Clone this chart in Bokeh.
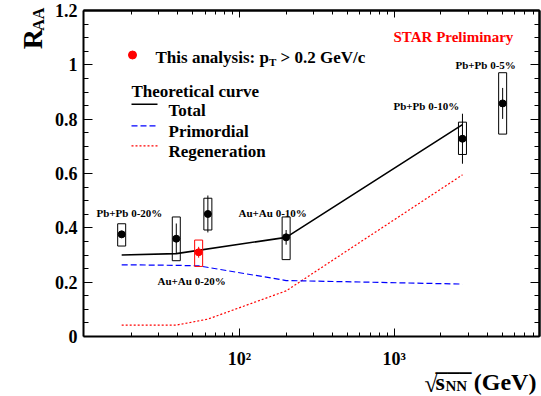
import math
from bokeh.plotting import figure
from bokeh.models import (FixedTicker, NumeralTickFormatter,
                          BasicTickFormatter, LogAxis, LinearAxis, Label,
                          ColumnDataSource)
from bokeh.embed import file_html
from bokeh.resources import INLINE

# ---------------- data ----------------
# measured points (black): sqrt(s_NN) in GeV
energy = [17.3, 39.0, 62.4, 200.0, 2760.0, 5020.0]
raa = [0.376, 0.360, 0.451, 0.365, 0.728, 0.858]
stat_err = [0.012, 0.056, 0.068, 0.027, 0.092, 0.057]
sys_lo = [0.043, 0.081, 0.059, 0.082, 0.058, 0.113]
sys_hi = [0.039, 0.080, 0.058, 0.075, 0.061, 0.113]

# this analysis (red)
this_energy = [54.4]
this_raa = [0.310]
this_stat = [0.020]
this_sys_lo = [0.052]
this_sys_hi = [0.045]

# theoretical curves
total_e = [17.3, 39.0, 200.0, 2760.0]
total_raa = [0.300, 0.305, 0.365, 0.780]
prim_e = [17.3, 39.0, 54.4, 200.0, 2760.0]
prim_raa = [0.264, 0.262, 0.260, 0.206, 0.193]
regen_e = [17.3, 39.0, 62.4, 200.0, 2760.0]
regen_raa = [0.042, 0.042, 0.064, 0.168, 0.595]

point_labels = ["Pb+Pb 0-20%", "Au+Au 0-20%", "Au+Au 0-10%", "Pb+Pb 0-10%", "Pb+Pb 0-5%"]
x_major = [100, 1000]
x_minor = [20, 30, 40, 50, 60, 70, 80, 90, 200, 300, 400, 500, 600, 700, 800, 900,
           2000, 3000, 4000, 5000, 6000, 7000, 8000]
y_major = [0.0, 0.2, 0.4, 0.6, 0.8, 1.0, 1.2]
y_minor = [0.05, 0.1, 0.15, 0.25, 0.3, 0.35, 0.45, 0.5, 0.55, 0.65, 0.7, 0.75,
           0.85, 0.9, 0.95, 1.05, 1.1, 1.15]

# ---------------- layout ----------------
# The Bokeh frame covers the whole canvas; the visible plot box (axes) is
# drawn at fixed locations inside it so that titles outside the box stay visible.
W, H = 541, 396
FONT = "Liberation Serif"
Y_MIN, Y_MAX = 0.0, 1.2
LOGX0 = math.log10(9.8)        # x value at the left side of the box
PX_PER_DEC = 154.7
BOX_L, BOX_R, BOX_T, BOX_B = 83, 539, 10, 336
PX_PER_UNIT = (BOX_B - BOX_T) / (Y_MAX - Y_MIN)


def rx(px):
    return 10 ** (LOGX0 + (px - BOX_L) / PX_PER_DEC)


def ry(py):
    return (BOX_B - py) / PX_PER_UNIT


X_LEFT, X_RIGHT = rx(BOX_L), rx(BOX_R)

p = figure(width=W, height=H, x_axis_type="log", x_range=(rx(0), rx(W)),
           y_range=(ry(H), ry(0)), output_backend="svg", toolbar_location=None,
           min_border_left=0, min_border_right=0, min_border_top=0, min_border_bottom=0)
p.xgrid.visible = False
p.ygrid.visible = False
p.outline_line_color = None
p.background_fill_color = "white"
p.border_fill_color = "white"


def style_axis(ax, major_in, minor_in):
    ax.axis_line_width = 2
    ax.axis_line_color = "black"
    ax.major_tick_in = major_in
    ax.major_tick_out = 0
    ax.minor_tick_in = minor_in
    ax.minor_tick_out = 0
    ax.major_tick_line_color = "black"
    ax.minor_tick_line_color = "black"
    ax.major_label_text_font = FONT
    ax.major_label_text_font_style = "bold"
    ax.major_label_text_color = "black"


xa = p.xaxis[0]
xa.ticker = FixedTicker(ticks=x_major, minor_ticks=x_minor)
xa.formatter = BasicTickFormatter()
xa.major_label_overrides = {100: "10\u00b2", 1000: "10\u00b3"}
style_axis(xa, 8, 4)
xa.major_label_text_font_size = "18px"
xa.major_label_standoff = 12
xa.fixed_location = Y_MIN
xa.bounds = (X_LEFT, X_RIGHT)

ya = p.yaxis[0]
ya.ticker = FixedTicker(ticks=y_major, minor_ticks=y_minor)
ya.formatter = NumeralTickFormatter(format="0.[0]")
style_axis(ya, 9, 5)
ya.major_label_text_font_size = "18px"
ya.major_label_standoff = 6
ya.fixed_location = X_LEFT
ya.bounds = (Y_MIN, Y_MAX)

# mirrored tick marks on top and right (no labels)
for ticks, length in ((x_major, 7), (x_minor, 4)):
    ax = LogAxis(ticker=FixedTicker(ticks=[], minor_ticks=ticks))
    style_axis(ax, 0, length)
    ax.major_label_standoff = 0
    ax.fixed_location = Y_MAX
    ax.bounds = (X_LEFT, X_RIGHT)
    p.add_layout(ax, "above")
for ticks, length in ((y_major, 9), (y_minor, 5)):
    ax = LinearAxis(ticker=FixedTicker(ticks=[], minor_ticks=ticks))
    style_axis(ax, 0, length)
    ax.major_label_standoff = 0
    ax.fixed_location = X_RIGHT
    ax.bounds = (Y_MIN, Y_MAX)
    p.add_layout(ax, "right")

# ---------------- theory curves ----------------
p.line(regen_e, regen_raa, line_color="#ff0000", line_width=1.2, line_dash="2 2")
p.line(prim_e, prim_raa, line_color="#0000ff", line_width=1.2, line_dash="6 3")
p.line(total_e, total_raa, line_color="black", line_width=1.6)


# ---------------- data points ----------------
def add_points(xs, ys, st, slo, shi, color):
    src = ColumnDataSource(dict(
        x=xs, y=ys,
        s_lo=[y - e for y, e in zip(ys, st)],
        s_hi=[y + e for y, e in zip(ys, st)],
        b_c=[y + (h - l) / 2 for y, l, h in zip(ys, slo, shi)],
        b_h=[l + h for l, h in zip(slo, shi)],
    ))
    p.rect(x="x", y="b_c", width=8, height="b_h", width_units="screen", source=src,
           fill_alpha=0, line_color=color, line_width=1)
    p.segment(x0="x", y0="s_lo", x1="x", y1="s_hi", source=src, line_color=color, line_width=1)
    p.scatter(x="x", y="y", source=src, size=7, color=color)


add_points(energy, raa, stat_err, sys_lo, sys_hi, "black")
add_points(this_energy, this_raa, this_stat, this_sys_lo, this_sys_hi, "#ff0000")


# ---------------- texts ----------------
def add_text(txt, px, py, size, color="black", angle=0.0, style="bold"):
    p.add_layout(Label(x=rx(px), y=ry(py), text=txt, text_font=FONT,
                       text_font_style=style, text_font_size=f"{size}px",
                       text_color=color, text_align="left", text_baseline="alphabetic",
                       angle=angle))


add_text(point_labels[0], 96, 212, 11)
add_text(point_labels[1], 157, 280, 11)
add_text(point_labels[2], 238, 212, 11)
add_text(point_labels[3], 393, 105, 11)
add_text(point_labels[4], 455, 64, 11)
add_text("STAR Preliminary", 393, 36, 15, color="#ff0000")

# legend
p.scatter([rx(132)], [ry(54.5)], size=8, color="#ff0000")
add_text("This analysis: p", 155, 56.7, 17)
add_text("T", 268.5, 61, 11)
add_text("> 0.2 GeV/c", 280, 56.7, 17)
add_text("Theoretical curve", 131, 90.5, 17)
p.line([rx(131), rx(157)], [ry(103.7)] * 2, line_color="black", line_width=1.6)
add_text("Total", 168, 110.3, 17)
p.line([rx(131), rx(157)], [ry(125.3)] * 2, line_color="#0000ff", line_width=1.2, line_dash="6 3")
add_text("Primordial", 168, 131, 17)
p.line([rx(131), rx(157)], [ry(145.3)] * 2, line_color="#ff0000", line_width=1.2, line_dash="2 2")
add_text("Regeneration", 168, 151, 17)

# axis titles
add_text("R", 31.7, 48.7, 28, angle=math.pi / 2)
add_text("AA", 38.3, 30.3, 16, angle=math.pi / 2)

add_text("\u221a", 424, 383, 24, style="normal")
add_text("___", 435, 362, 24)
add_text("s", 435, 381.7, 24)
add_text("NN", 445, 385, 15)
add_text("(GeV)", 473.3, 381.7, 24)

open("out.html", "w").write(file_html(p, INLINE))
